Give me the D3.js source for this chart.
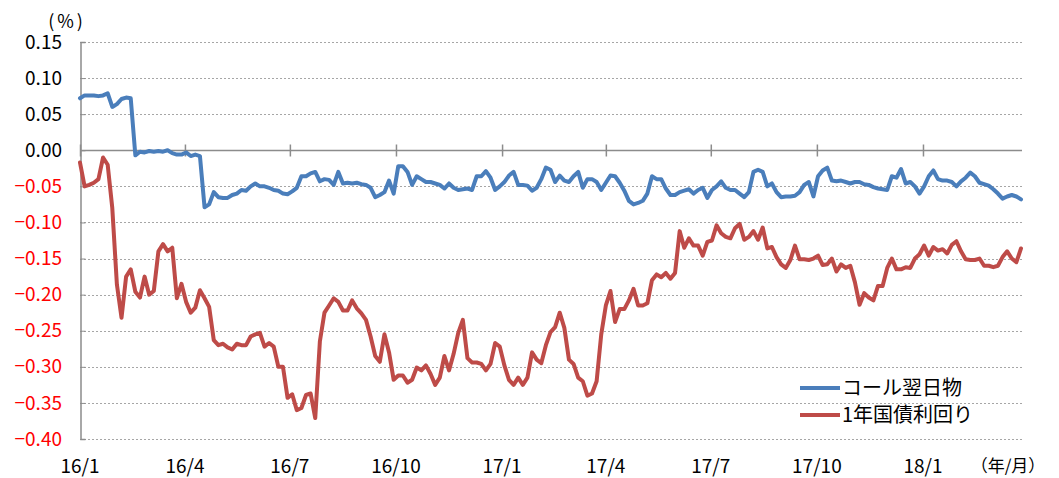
<!DOCTYPE html>
<html>
<head>
<meta charset="utf-8">
<script src="https://cdn.jsdelivr.net/npm/d3@7"></script>
<style>
  body { margin: 0; background: #fff; }
  svg { display: block; font-family: "Noto Sans CJK JP", "Noto Sans", sans-serif; }
  text.neg { fill: #ff0000; }
</style>
</head>
<body>
<div id="chart"></div>
<script>
// series sampled every 4 days from the first trading day
var startDate = "2016-01-04";
var stepDays = 4;

// コール翌日物 (%)
var callRate = [
  0.072, 0.076, 0.076, 0.076, 0.075, 0.076, 0.079, 0.060, 0.064, 0.071,
  0.073, 0.072, -0.007, -0.002, -0.003, -0.001, -0.002, -0.001, -0.002, 0.000,
  -0.004, -0.006, -0.006, -0.003, -0.008, -0.006, -0.008, -0.079, -0.075, -0.058,
  -0.065, -0.066, -0.066, -0.062, -0.060, -0.055, -0.056, -0.050, -0.046, -0.050,
  -0.050, -0.052, -0.055, -0.056, -0.060, -0.061, -0.057, -0.052, -0.036, -0.036,
  -0.032, -0.030, -0.043, -0.040, -0.041, -0.048, -0.030, -0.046, -0.045, -0.046,
  -0.045, -0.047, -0.048, -0.052, -0.065, -0.062, -0.058, -0.042, -0.060, -0.022,
  -0.022, -0.030, -0.048, -0.036, -0.040, -0.044, -0.044, -0.046, -0.048, -0.053,
  -0.046, -0.052, -0.055, -0.054, -0.053, -0.055, -0.036, -0.036, -0.029, -0.038,
  -0.055, -0.050, -0.044, -0.035, -0.030, -0.048, -0.048, -0.049, -0.056, -0.052,
  -0.040, -0.024, -0.027, -0.044, -0.035, -0.042, -0.044, -0.036, -0.030, -0.052,
  -0.040, -0.040, -0.044, -0.055, -0.045, -0.035, -0.036, -0.045, -0.056, -0.070,
  -0.075, -0.073, -0.070, -0.060, -0.036, -0.040, -0.040, -0.053, -0.062, -0.062,
  -0.058, -0.056, -0.054, -0.060, -0.055, -0.052, -0.066, -0.055, -0.050, -0.043,
  -0.052, -0.055, -0.055, -0.060, -0.065, -0.058, -0.030, -0.027, -0.030, -0.050,
  -0.046, -0.058, -0.065, -0.064, -0.064, -0.063, -0.058, -0.048, -0.044, -0.064,
  -0.036, -0.028, -0.024, -0.042, -0.043, -0.042, -0.044, -0.046, -0.044, -0.044,
  -0.047, -0.048, -0.051, -0.053, -0.054, -0.055, -0.036, -0.038, -0.026, -0.046,
  -0.044, -0.050, -0.060, -0.050, -0.036, -0.028, -0.040, -0.042, -0.042, -0.044,
  -0.050, -0.043, -0.038, -0.031, -0.036, -0.045, -0.047, -0.049, -0.054, -0.060,
  -0.067, -0.064, -0.062, -0.064, -0.068
];

// 1年国債利回り (%)
var jgb1y = [
  -0.017, -0.050, -0.048, -0.045, -0.040, -0.010, -0.020, -0.080, -0.186, -0.232,
  -0.175, -0.165, -0.196, -0.204, -0.175, -0.200, -0.195, -0.140, -0.130, -0.140,
  -0.135, -0.205, -0.185, -0.210, -0.225, -0.218, -0.194, -0.205, -0.217, -0.263,
  -0.270, -0.268, -0.273, -0.276, -0.268, -0.270, -0.270, -0.258, -0.255, -0.253,
  -0.272, -0.267, -0.272, -0.300, -0.300, -0.343, -0.338, -0.360, -0.357, -0.339,
  -0.337, -0.371, -0.265, -0.225, -0.215, -0.205, -0.210, -0.222, -0.222, -0.208,
  -0.219, -0.226, -0.235, -0.258, -0.285, -0.293, -0.255, -0.280, -0.318, -0.312,
  -0.312, -0.322, -0.318, -0.301, -0.305, -0.298, -0.310, -0.325, -0.315, -0.285,
  -0.305, -0.282, -0.253, -0.235, -0.288, -0.294, -0.294, -0.296, -0.305, -0.296,
  -0.267, -0.272, -0.298, -0.318, -0.325, -0.315, -0.325, -0.315, -0.280, -0.290,
  -0.295, -0.270, -0.252, -0.245, -0.225, -0.246, -0.290, -0.296, -0.315, -0.320,
  -0.340, -0.337, -0.320, -0.255, -0.215, -0.195, -0.238, -0.220, -0.220, -0.208,
  -0.192, -0.215, -0.215, -0.212, -0.180, -0.172, -0.176, -0.170, -0.178, -0.170,
  -0.112, -0.135, -0.122, -0.132, -0.132, -0.146, -0.127, -0.125, -0.104, -0.115,
  -0.120, -0.122, -0.108, -0.102, -0.124, -0.120, -0.112, -0.124, -0.107, -0.136,
  -0.134, -0.148, -0.158, -0.163, -0.152, -0.132, -0.151, -0.151, -0.152, -0.150,
  -0.146, -0.159, -0.158, -0.150, -0.168, -0.158, -0.163, -0.160, -0.183, -0.214,
  -0.198, -0.204, -0.208, -0.188, -0.188, -0.163, -0.150, -0.165, -0.165, -0.162,
  -0.163, -0.150, -0.144, -0.132, -0.146, -0.134, -0.139, -0.137, -0.143, -0.131,
  -0.126, -0.140, -0.151, -0.152, -0.152, -0.150, -0.160, -0.160, -0.162, -0.160,
  -0.148, -0.140, -0.150, -0.155, -0.136
];

var seriesNames = ["コール翌日物", "1年国債利回り"];
var tickDates = ["2016-01-04", "2016-04-04", "2016-07-04", "2016-10-04", "2017-01-04",
                 "2017-04-04", "2017-07-04", "2017-10-04", "2018-01-04"];
var tickLabels = ["16/1", "16/4", "16/7", "16/10", "17/1", "17/4", "17/7", "17/10", "18/1"];
var yTicks = [0.15, 0.10, 0.05, 0.00, -0.05, -0.10, -0.15, -0.20, -0.25, -0.30, -0.35, -0.40];

var width = 1059, height = 478;
var parse = d3.timeParse("%Y-%m-%d");
var t0 = parse(startDate);

function toPoints(vals) {
  return vals.map(function(v, i) { return { date: d3.timeDay.offset(t0, i * stepDays), value: v }; });
}
var series = [
  { name: seriesNames[0], color: "#4a7ebb", points: toPoints(callRate) },
  { name: seriesNames[1], color: "#be4b48", points: toPoints(jgb1y) }
];
var lastDate = series[0].points[series[0].points.length - 1].date;

var x = d3.scaleTime().domain([t0, lastDate]).range([80, 1021]);
var y = d3.scaleLinear().domain([-0.40, 0.15]).range([439, 42]);

var svg = d3.select("#chart").append("svg")
  .attr("width", width)
  .attr("height", height);

// dotted gridlines
svg.append("g").selectAll("line")
  .data(yTicks.filter(function(d) { return d !== 0; }))
  .enter().append("line")
  .attr("x1", 80).attr("x2", 1022)
  .attr("y1", function(d) { return Math.round(y(d)) + 0.5; })
  .attr("y2", function(d) { return Math.round(y(d)) + 0.5; })
  .style("stroke", "#a6a6a6")
  .style("stroke-width", 1)
  .style("stroke-dasharray", "2,2");

// y axis (line + inner ticks from d3, labels drawn separately)
var yAxis = d3.axisLeft(y)
  .tickValues(yTicks)
  .tickSize(-5)
  .tickFormat("");
var gy = svg.append("g").attr("transform", "translate(80.5,0)").call(yAxis);
gy.select(".domain").style("stroke", "#8c8c8c").style("stroke-width", 1.5);
gy.selectAll(".tick line").style("stroke", "#8c8c8c");

// y labels: negatives in red
var fmt = d3.format(".2f");
var posLabels = svg.append("g").attr("fill", "#000000");
var negLabels = svg.append("g").attr("fill", "#ff0000");
posLabels.selectAll("text")
  .data(yTicks.filter(function(d) { return d >= 0; }))
  .enter().append("text")
  .attr("x", 62)
  .attr("y", function(d) { return y(d); })
  .attr("dy", "0.35em")
  .attr("text-anchor", "end")
  .style("font-size", "19px")
  .text(function(d) { return fmt(d); });
negLabels.selectAll("text")
  .data(yTicks.filter(function(d) { return d < 0; }))
  .enter().append("text")
  .attr("class", "neg")
  .attr("x", 62)
  .attr("y", function(d) { return y(d); })
  .attr("dy", "0.35em")
  .attr("text-anchor", "end")
  .style("font-size", "19px")
  .text(function(d) { return fmt(d); });

// category axis on zero line, labels at bottom
var xAxis = d3.axisBottom(x)
  .tickValues(tickDates.map(parse))
  .tickSizeInner(0).tickSizeOuter(0)
  .tickFormat("");
var gx = svg.append("g").attr("transform", "translate(0," + (Math.round(y(0)) + 0.5) + ")").call(xAxis);
gx.select(".domain").attr("d", "M80,0H1022").style("stroke", "#8c8c8c").style("stroke-width", 1.5);
gx.selectAll(".tick").append("line")
  .attr("y1", -6).attr("y2", 6)
  .style("stroke", "#8c8c8c").style("stroke-width", 1.5);

svg.append("g").selectAll("text")
  .data(tickDates)
  .enter().append("text")
  .attr("x", function(d) { return x(parse(d)); })
  .attr("y", 473)
  .attr("text-anchor", "middle")
  .style("font-size", "19px")
  .text(function(d, i) { return tickLabels[i]; });

svg.append("text")
  .attr("x", 1008).attr("y", 472)
  .attr("text-anchor", "middle")
  .style("font-size", "17px")
  .text("（年/月）");

svg.append("text")
  .attr("x", 67).attr("y", 28)
  .attr("text-anchor", "middle")
  .style("font-size", "18px")
  .style("letter-spacing", "3px")
  .text("(%)");

// lines
var line = d3.line()
  .x(function(d) { return x(d.date); })
  .y(function(d) { return y(d.value); });

svg.append("g").selectAll("path")
  .data(series)
  .enter().append("path")
  .attr("d", function(d) { return line(d.points); })
  .style("fill", "none")
  .style("stroke", function(d) { return d.color; })
  .style("stroke-width", 4)
  .style("stroke-linejoin", "round")
  .style("stroke-linecap", "round");

// legend
var legend = svg.append("g").selectAll("g")
  .data(series)
  .enter().append("g")
  .attr("transform", function(d, i) { return "translate(800," + (388 + i * 27) + ")"; });
legend.append("line")
  .attr("x1", 0).attr("x2", 40)
  .style("stroke", function(d) { return d.color; })
  .style("stroke-width", 4);
legend.append("text")
  .attr("x", 42).attr("y", 0)
  .attr("dy", "0.35em")
  .style("font-size", "20px")
  .text(function(d) { return d.name; });
</script>
</body>
</html>
